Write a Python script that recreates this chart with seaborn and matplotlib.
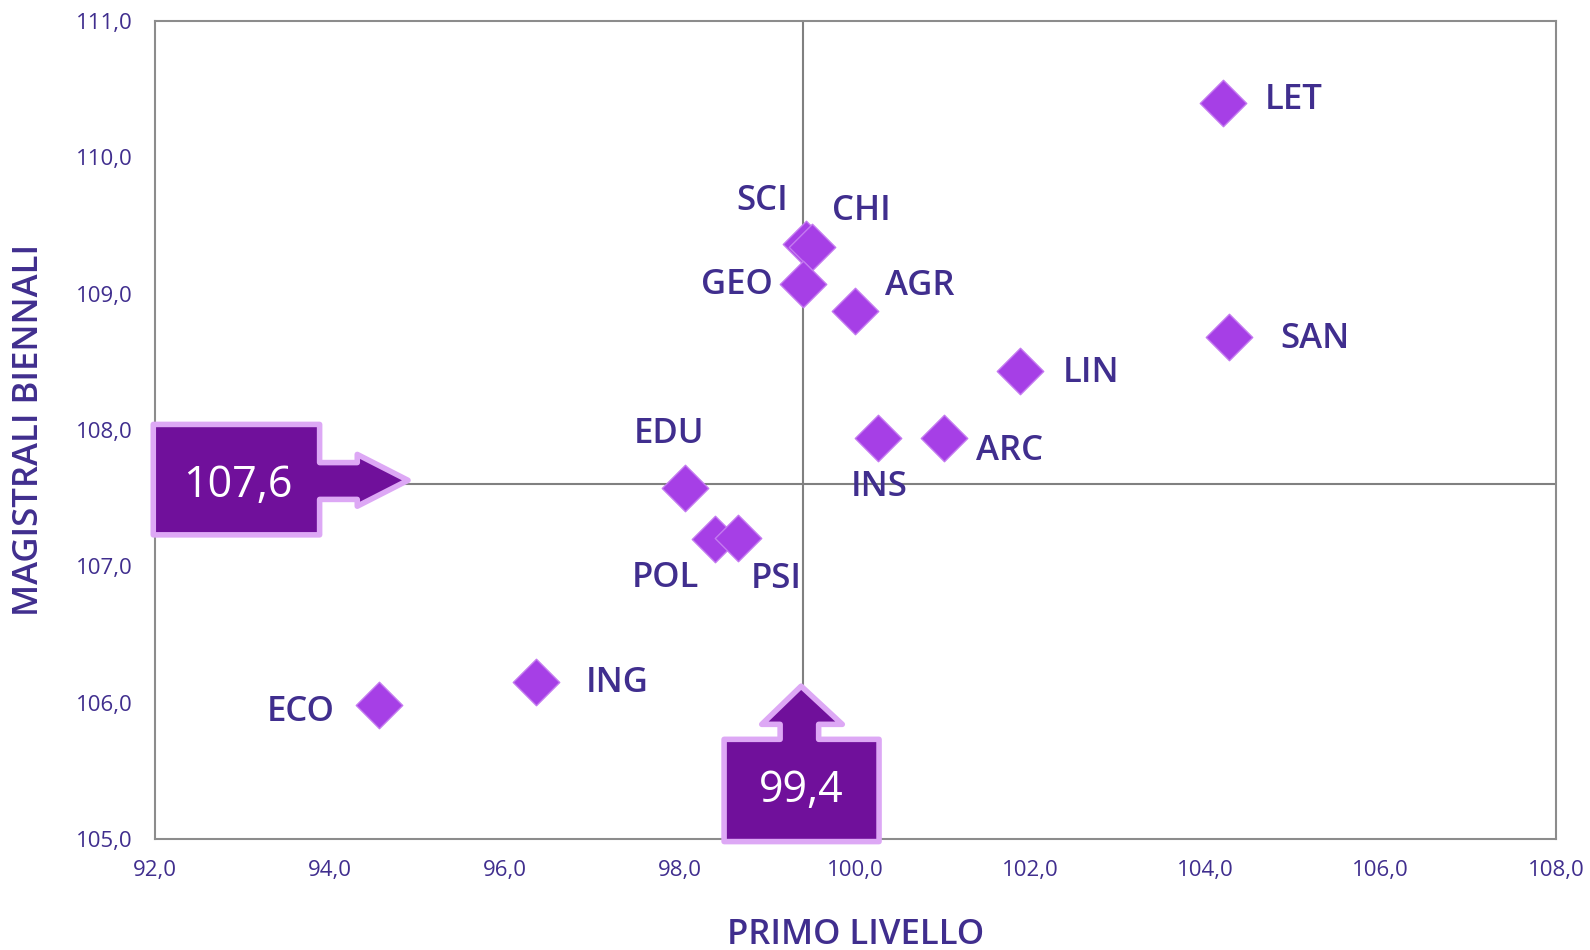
import numpy as np
import pandas as pd
import seaborn as sns
import matplotlib.pyplot as plt
from matplotlib.patches import Polygon
from matplotlib.ticker import FuncFormatter

# data
gruppi = ["LET", "SAN", "SCI", "CHI", "GEO", "AGR", "LIN", "ARC", "INS",
          "EDU", "POL", "PSI", "ING", "ECO"]
primo_livello = [104.2, 104.27, 99.44, 99.50, 99.40, 100.0, 101.88, 101.01, 100.26,
                 98.05, 98.40, 98.66, 96.35, 94.56]
magistrali = [110.40, 108.68, 109.36, 109.34, 109.07, 108.87, 108.43, 107.94, 107.94,
              107.57, 107.20, 107.21, 106.15, 105.98]
media_x = 99.4
media_y = 107.6

# label offsets in points (dx, dy, ha)
offsets = {
    "LET": (30, 2, "left"), "SAN": (37, -1, "left"), "CHI": (15, 26, "left"),
    "SCI": (-13, 31, "right"), "GEO": (-22, -1, "right"), "AGR": (21, 18, "left"),
    "LIN": (31, -1, "left"), "ARC": (23, -9, "left"), "INS": (1, -35, "center"),
    "EDU": (-11, 39, "center"), "POL": (-36, -28, "center"), "PSI": (9, -30, "left"),
    "ING": (36, -1, "left"), "ECO": (-32, -5, "right"),
}

INDIGO = "#402E8E"
VIOLA = "#A63FE6"
SCURO = "#70109B"
CHIARO = "#DDA8F5"

sns.set_style("white")
plt.rcParams["font.family"] = ["Open Sans", "DejaVu Sans"]

df = pd.DataFrame({"gruppo": gruppi, "x": primo_livello, "y": magistrali})

fig = plt.figure(figsize=(15.9, 9.5), dpi=100)
ax = fig.add_axes([0.0975, 0.117, 0.881, 0.861])

ax.axvline(media_x, color="#808080", lw=1.5, zorder=1)
ax.axhline(media_y, color="#808080", lw=1.5, zorder=1)

sns.scatterplot(data=df, x="x", y="y", ax=ax, marker="D", s=560, color=VIOLA,
                edgecolor="#C47AF0", linewidth=1, zorder=3)

for g, x, y in zip(gruppi, primo_livello, magistrali):
    dx, dy, ha = offsets[g]
    ax.annotate(g, (x, y), xytext=(dx, dy), textcoords="offset points",
                ha=ha, va="center", fontsize=25, color=INDIGO, fontweight="semibold")

ax.set_xlim(92, 108)
ax.set_ylim(105, 111)
ax.set_xticks(np.arange(92, 108.1, 2))
ax.set_yticks(np.arange(105, 111.1, 1))
fmt = FuncFormatter(lambda v, p: f"{v:.1f}".replace(".", ","))
ax.xaxis.set_major_formatter(fmt)
ax.yaxis.set_major_formatter(fmt)
ax.tick_params(axis="both", length=0, labelsize=16, labelcolor=INDIGO)
ax.tick_params(axis="x", pad=15)
ax.tick_params(axis="y", pad=16)
for sp in ax.spines.values():
    sp.set_color("#8C8C8C")
    sp.set_linewidth(1.5)

ax.set_xlabel("PRIMO LIVELLO", fontsize=25, color=INDIGO, va="center",
              fontweight="semibold")
ax.set_ylabel("MAGISTRALI BIENNALI", fontsize=25, color=INDIGO, va="center",
              fontweight="semibold")
ax.xaxis.set_label_coords(0.5, -0.117)
ax.yaxis.set_label_coords(-0.090, 0.5)

# callout for the mean on the y axis (arrow pointing right)
x0 = ax.get_xlim()[0]
left_arrow = [
    (x0 - 0.02, media_y + 0.44), (x0 + 1.88, media_y + 0.44), (x0 + 1.88, media_y + 0.16),
    (x0 + 2.31, media_y + 0.16), (x0 + 2.31, media_y + 0.22), (x0 + 2.89, media_y + 0.03),
    (x0 + 2.31, media_y - 0.16), (x0 + 2.31, media_y - 0.11), (x0 + 1.88, media_y - 0.11),
    (x0 + 1.88, media_y - 0.37), (x0 - 0.02, media_y - 0.37),
]
ax.add_patch(Polygon(left_arrow, closed=True, facecolor=SCURO, edgecolor=CHIARO,
                     lw=4, joinstyle="round", zorder=4, clip_on=False))
ax.text(x0 + 0.95, media_y - 0.01, f"{media_y:.1f}".replace(".", ","), color="white",
        fontsize=31, ha="center", va="center", zorder=5, fontweight="medium")

# callout for the mean on the x axis (arrow pointing up)
y0 = ax.get_ylim()[0]
up_arrow = [
    (media_x - 0.90, y0 - 0.02), (media_x - 0.90, y0 + 0.73), (media_x - 0.26, y0 + 0.73),
    (media_x - 0.26, y0 + 0.84), (media_x - 0.47, y0 + 0.84), (media_x - 0.02, y0 + 1.12),
    (media_x + 0.45, y0 + 0.84), (media_x + 0.18, y0 + 0.84), (media_x + 0.18, y0 + 0.73),
    (media_x + 0.87, y0 + 0.73), (media_x + 0.87, y0 - 0.02),
]
ax.add_patch(Polygon(up_arrow, closed=True, facecolor=SCURO, edgecolor=CHIARO,
                     lw=4, joinstyle="round", zorder=4, clip_on=False))
ax.text(media_x - 0.02, y0 + 0.35, f"{media_x:.1f}".replace(".", ","), color="white",
        fontsize=31, ha="center", va="center", zorder=5, fontweight="medium")

fig.savefig("out.png", dpi=100)
